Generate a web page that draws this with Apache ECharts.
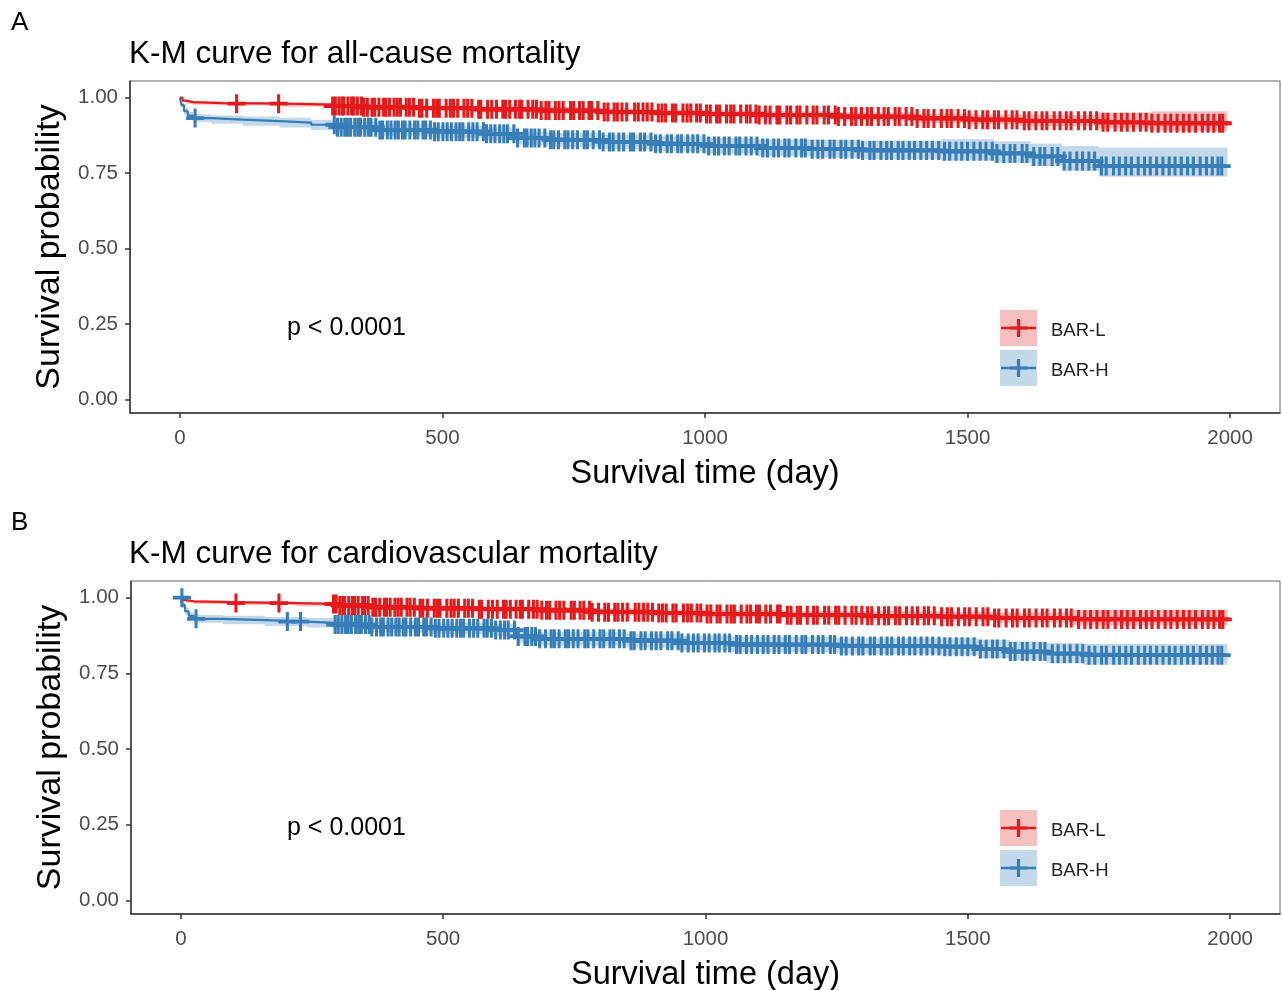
<!DOCTYPE html>
<html>
<head>
<meta charset="utf-8">
<script src="https://cdn.jsdelivr.net/npm/echarts@6/dist/echarts.min.js"></script>
<style>
html,body{margin:0;padding:0;background:#fff;}
#chart{width:1282px;height:990px;}
</style>
</head>
<body>
<div id="chart"></div>
<script>
// ---------------- DATA ----------------
const xTicks = [0, 500, 1000, 1500, 2000];
const yTicks = [0, 0.25, 0.5, 0.75, 1.0];
const groupNames = ['BAR-L', 'BAR-H'];
const panelTitles = ['K-M curve for all-cause mortality', 'K-M curve for cardiovascular mortality'];
const panelLetters = ['A', 'B'];
const pText = 'p < 0.0001';

// Panel A, BAR-L
const aL_time = [0, 5, 12, 25, 80, 200, 290, 350, 450, 560, 680, 800, 900, 1000, 1100, 1250, 1400, 1500, 1600, 1750, 1850, 1995];
const aL_surv = [1.000, 0.990, 0.985, 0.982, 0.980, 0.977, 0.972, 0.968, 0.965, 0.961, 0.957, 0.952, 0.949, 0.946, 0.942, 0.937, 0.931, 0.927, 0.923, 0.918, 0.915, 0.915];
const aL_low  = [1.000, 0.986, 0.980, 0.976, 0.974, 0.970, 0.964, 0.960, 0.956, 0.951, 0.947, 0.941, 0.937, 0.934, 0.929, 0.923, 0.916, 0.911, 0.905, 0.898, 0.890, 0.890];
const aL_up   = [1.000, 0.994, 0.990, 0.988, 0.986, 0.984, 0.980, 0.977, 0.974, 0.971, 0.968, 0.964, 0.961, 0.958, 0.955, 0.951, 0.947, 0.944, 0.943, 0.950, 0.955, 0.955];
// Panel A, BAR-H
const aH_time = [0, 3, 8, 15, 25, 60, 120, 190, 250, 300, 380, 480, 580, 640, 700, 800, 900, 1000, 1100, 1200, 1300, 1450, 1550, 1620, 1680, 1750, 1995];
const aH_surv = [1.000, 0.975, 0.955, 0.940, 0.932, 0.927, 0.922, 0.917, 0.910, 0.902, 0.893, 0.887, 0.880, 0.866, 0.860, 0.853, 0.847, 0.840, 0.833, 0.829, 0.825, 0.822, 0.815, 0.805, 0.790, 0.773, 0.771];
const aH_low  = [1.000, 0.966, 0.944, 0.928, 0.919, 0.913, 0.907, 0.901, 0.893, 0.884, 0.874, 0.867, 0.859, 0.844, 0.837, 0.829, 0.822, 0.814, 0.806, 0.801, 0.796, 0.792, 0.784, 0.773, 0.757, 0.738, 0.736];
const aH_up   = [1.000, 0.984, 0.966, 0.952, 0.945, 0.941, 0.937, 0.933, 0.927, 0.920, 0.912, 0.907, 0.901, 0.888, 0.883, 0.877, 0.872, 0.866, 0.862, 0.860, 0.858, 0.862, 0.855, 0.848, 0.840, 0.835, 0.835];
// Panel B, BAR-L
const bL_time = [0, 4, 10, 25, 90, 220, 300, 360, 450, 560, 680, 780, 900, 1000, 1150, 1300, 1450, 1550, 1700, 1995];
const bL_surv = [1.000, 0.992, 0.988, 0.985, 0.982, 0.979, 0.974, 0.968, 0.965, 0.962, 0.958, 0.952, 0.949, 0.946, 0.942, 0.940, 0.937, 0.933, 0.928, 0.927];
const bL_low  = [1.000, 0.988, 0.983, 0.979, 0.976, 0.972, 0.966, 0.960, 0.956, 0.952, 0.948, 0.941, 0.937, 0.934, 0.929, 0.926, 0.922, 0.917, 0.908, 0.905];
const bL_up   = [1.000, 0.996, 0.993, 0.991, 0.988, 0.986, 0.982, 0.977, 0.974, 0.972, 0.969, 0.964, 0.961, 0.959, 0.956, 0.955, 0.953, 0.951, 0.960, 0.962];
// Panel B, BAR-H
const bH_time = [0, 3, 8, 15, 25, 80, 160, 240, 290, 360, 480, 600, 640, 680, 850, 950, 1050, 1250, 1450, 1520, 1580, 1650, 1720, 1995];
const bH_surv = [1.000, 0.975, 0.955, 0.940, 0.930, 0.926, 0.921, 0.917, 0.911, 0.903, 0.899, 0.893, 0.872, 0.864, 0.858, 0.850, 0.845, 0.840, 0.838, 0.830, 0.822, 0.815, 0.810, 0.808];
const bH_low  = [1.000, 0.966, 0.944, 0.928, 0.917, 0.912, 0.906, 0.901, 0.894, 0.885, 0.880, 0.873, 0.851, 0.842, 0.835, 0.826, 0.820, 0.814, 0.810, 0.801, 0.792, 0.784, 0.778, 0.775];
const bH_up   = [1.000, 0.984, 0.966, 0.952, 0.943, 0.940, 0.936, 0.933, 0.928, 0.921, 0.918, 0.913, 0.893, 0.886, 0.881, 0.874, 0.870, 0.866, 0.866, 0.860, 0.855, 0.850, 0.847, 0.846];

// Censoring times (days)
const censorL_early_A = [108, 188];
const censorH_early_A = [29];
const censorL_early_B = [105, 187];
const censorH_early_B = [2, 29, 203, 228];
const censorL_late = [291, 296, 303, 309, 312, 320, 327, 331, 338, 346, 350, 357, 366, 371, 379, 388, 392, 399, 408, 414, 420, 431, 437, 445, 456, 461, 470, 483, 489, 494, 507, 515, 521, 529, 541, 548, 556, 569, 573, 586, 594, 603, 615, 620, 628, 639, 647, 651, 663, 672, 679, 688, 697, 703, 715, 722, 730, 744, 750, 761, 768, 779, 784, 796, 808, 815, 827, 833, 842, 851, 866, 873, 882, 890, 899, 911, 918, 925, 938, 944, 958, 966, 973, 984, 991, 1003, 1010, 1022, 1028, 1041, 1049, 1055, 1068, 1079, 1086, 1097, 1103, 1115, 1124, 1137, 1142, 1156, 1163, 1175, 1181, 1194, 1206, 1213, 1227, 1235, 1248, 1254, 1266, 1279, 1287, 1298, 1309, 1317, 1330, 1341, 1349, 1362, 1370, 1383, 1394, 1404, 1417, 1425, 1436, 1450, 1461, 1469, 1482, 1494, 1503, 1516, 1529, 1538, 1551, 1559, 1573, 1585, 1594, 1608, 1617, 1630, 1642, 1651, 1665, 1676, 1688, 1697, 1711, 1723, 1734, 1746, 1758, 1767, 1781, 1793, 1804, 1816, 1829, 1840, 1851, 1863, 1876, 1887, 1899, 1911, 1922, 1934, 1947, 1958, 1969, 1980, 1986];
const censorH_late = [294, 300, 307, 314, 319, 325, 333, 339, 344, 352, 359, 364, 373, 381, 386, 395, 402, 410, 416, 424, 429, 438, 447, 453, 463, 468, 477, 485, 492, 501, 509, 517, 526, 533, 539, 550, 558, 566, 578, 584, 592, 600, 609, 617, 624, 636, 643, 656, 661, 669, 676, 684, 695, 706, 712, 721, 733, 739, 748, 757, 770, 776, 787, 799, 806, 818, 825, 836, 845, 858, 864, 877, 885, 897, 906, 915, 928, 936, 948, 955, 967, 977, 986, 998, 1007, 1018, 1026, 1037, 1046, 1059, 1066, 1078, 1088, 1099, 1110, 1119, 1131, 1140, 1152, 1160, 1173, 1184, 1191, 1204, 1215, 1224, 1238, 1246, 1259, 1268, 1280, 1292, 1300, 1314, 1322, 1335, 1346, 1355, 1368, 1377, 1389, 1399, 1411, 1422, 1433, 1445, 1456, 1466, 1478, 1489, 1500, 1512, 1524, 1535, 1547, 1556, 1569, 1581, 1590, 1604, 1613, 1626, 1638, 1647, 1661, 1672, 1684, 1695, 1708, 1719, 1731, 1742, 1755, 1764, 1778, 1789, 1801, 1812, 1825, 1837, 1848, 1860, 1872, 1884, 1895, 1907, 1919, 1930, 1943, 1955, 1966, 1977, 1984];

// ---------------- STYLE ----------------
const FONT = '"Liberation Sans", Arial, sans-serif';
const RED = '#E41A1C';
const BLUE = '#377EB8';
const RED_BAND = 'rgba(228,26,28,0.28)';
const BLUE_BAND = 'rgba(55,126,184,0.30)';
// plus sign: vertical arm thinner than horizontal arm
const PLUS = 'path://M-1.7,-10 L1.7,-10 L1.7,-2 L10,-2 L10,2 L1.7,2 L1.7,10 L-1.7,10 L-1.7,2 L-10,2 L-10,-2 L-1.7,-2 Z';

const panels = [
  {
    curves: [
      {t: aL_time, s: aL_surv, lo: aL_low, hi: aL_up, cens: censorL_early_A.concat(censorL_late), color: RED, band: RED_BAND, name: groupNames[0]},
      {t: aH_time, s: aH_surv, lo: aH_low, hi: aH_up, cens: censorH_early_A.concat(censorH_late), color: BLUE, band: BLUE_BAND, name: groupNames[1]}
    ]
  },
  {
    curves: [
      {t: bL_time, s: bL_surv, lo: bL_low, hi: bL_up, cens: censorL_early_B.concat(censorL_late), color: RED, band: RED_BAND, name: groupNames[0]},
      {t: bH_time, s: bH_surv, lo: bH_low, hi: bH_up, cens: censorH_early_B.concat(censorH_late), color: BLUE, band: BLUE_BAND, name: groupNames[1]}
    ]
  }
];

function survAt(c, time) {
  let v = c.s[0];
  for (let i = 0; i < c.t.length; i++) { if (c.t[i] <= time) v = c.s[i]; }
  return v;
}

function plusPoints(cx, cy, a, h) {
  return [[cx - h, cy - a], [cx + h, cy - a], [cx + h, cy - h], [cx + a, cy - h], [cx + a, cy + h], [cx + h, cy + h],
          [cx + h, cy + a], [cx - h, cy + a], [cx - h, cy + h], [cx - a, cy + h], [cx - a, cy - h], [cx - h, cy - h]];
}

const gridTops = [81, 581];
const gridHeights = [332, 333];
const gridLefts = [130, 131];

const grids = [], xAxes = [], yAxes = [], series = [], titles = [], graphics = [];

panels.forEach((p, pi) => {
  grids.push({left: gridLefts[pi], right: 2, top: gridTops[pi], height: gridHeights[pi],
    show: true, borderColor: '#666', borderWidth: 1, backgroundColor: 'transparent', containLabel: false, outerBoundsMode: 'none'});
  xAxes.push({
    type: 'value', gridIndex: pi, min: -95, max: 2095,
    axisLine: {show: true, onZero: false, lineStyle: {color: '#333', width: 1.5}},
    axisTick: {show: true, customValues: xTicks, length: 5, lineStyle: {color: '#333', width: 1.5}},
    axisLabel: {customValues: xTicks, fontSize: 20.5, color: '#4d4d4d', margin: 15, fontFamily: FONT,
      formatter: v => String(v)},
    splitLine: {show: false},
    name: 'Survival time (day)', nameLocation: 'middle', nameGap: 45,
    nameTextStyle: {fontSize: 32.5, color: '#000', fontFamily: FONT}
  });
  yAxes.push({
    type: 'value', gridIndex: pi, min: -0.045, max: 1.055,
    axisLine: {show: true, onZero: false, lineStyle: {color: '#333', width: 1.5}},
    axisTick: {show: true, customValues: yTicks, length: 5, lineStyle: {color: '#333', width: 1.5}},
    axisLabel: {customValues: yTicks, fontSize: 20.5, color: '#4d4d4d', margin: 12, fontFamily: FONT,
      formatter: v => Number(v).toFixed(2)},
    splitLine: {show: false},
    name: 'Survival probability', nameLocation: 'middle', nameGap: 63, nameRotate: 90,
    nameTextStyle: {fontSize: 34, color: '#000', fontFamily: FONT}
  });
  titles.push({text: panelTitles[pi], left: 129, top: gridTops[pi] - 43, padding: 0,
    textStyle: {fontSize: 31.5, fontWeight: 'normal', color: '#000', fontFamily: FONT}});

  p.curves.forEach((c) => {
    series.push({
      type: 'custom', xAxisIndex: pi, yAxisIndex: pi, z: 1, silent: true,
      data: c.t.map((t, i) => [t, c.lo[i], c.hi[i]]),
      encode: {x: 0, y: [1, 2]},
      renderItem: function (params, api) {
        if (params.dataIndex !== 0) return null;
        const pts = [];
        for (let i = 0; i < c.t.length; i++) {
          const tNext = i + 1 < c.t.length ? c.t[i + 1] : c.t[i];
          pts.push(api.coord([c.t[i], c.hi[i]]));
          pts.push(api.coord([tNext, c.hi[i]]));
        }
        for (let i = c.t.length - 1; i >= 0; i--) {
          const tNext = i + 1 < c.t.length ? c.t[i + 1] : c.t[i];
          pts.push(api.coord([tNext, c.lo[i]]));
          pts.push(api.coord([c.t[i], c.lo[i]]));
        }
        return {type: 'polygon', shape: {points: pts}, style: {fill: c.band}};
      }
    });
  });
  p.curves.forEach((c, ci) => {
    series.push({
      type: 'line', name: c.name, xAxisIndex: pi, yAxisIndex: pi, z: 3 + ci, step: 'end',
      data: c.t.map((t, i) => [t, c.s[i]]),
      showSymbol: false, symbol: 'none', silent: true,
      lineStyle: {color: c.color, width: 2.2}
    });
    series.push({
      type: 'scatter', xAxisIndex: pi, yAxisIndex: pi, z: 3 + ci, silent: true,
      data: c.cens.map(t => [t, survAt(c, t)]),
      symbol: PLUS, symbolSize: [18, 19],
      itemStyle: {color: c.color, opacity: 1}
    });
  });

  graphics.push({type: 'text', x: 11, y: gridTops[pi] - 71,
    style: {text: panelLetters[pi], font: '26px ' + FONT, fill: '#000'}});
  graphics.push({type: 'text', x: 287, y: gridTops[pi] + 247,
    style: {text: pText, font: '25px ' + FONT, fill: '#000', textVerticalAlign: 'middle'}});
  const lg = gridTops[pi] + 229;
  p.curves.forEach((c, ci) => {
    const ky = lg + ci * 40;
    graphics.push({type: 'rect', shape: {x: 1000, y: ky, width: 37, height: 36}, style: {fill: c.band}});
    graphics.push({type: 'line', shape: {x1: 1001, y1: ky + 18, x2: 1036, y2: ky + 18}, style: {stroke: c.color, lineWidth: 2.5}});
    graphics.push({type: 'polygon', shape: {points: plusPoints(1018.5, ky + 18, 9, 1.6)}, style: {fill: c.color}});
    graphics.push({type: 'text', x: 1051, y: ky + 21,
      style: {text: c.name, font: '18.5px ' + FONT, fill: '#222', textVerticalAlign: 'middle'}});
  });
});

const chart = echarts.init(document.getElementById('chart'), null, {renderer: 'canvas'});
chart.setOption({
  backgroundColor: '#fff',
  animation: false,
  title: titles,
  grid: grids,
  xAxis: xAxes,
  yAxis: yAxes,
  series: series,
  graphic: graphics
});
</script>
</body>
</html>
